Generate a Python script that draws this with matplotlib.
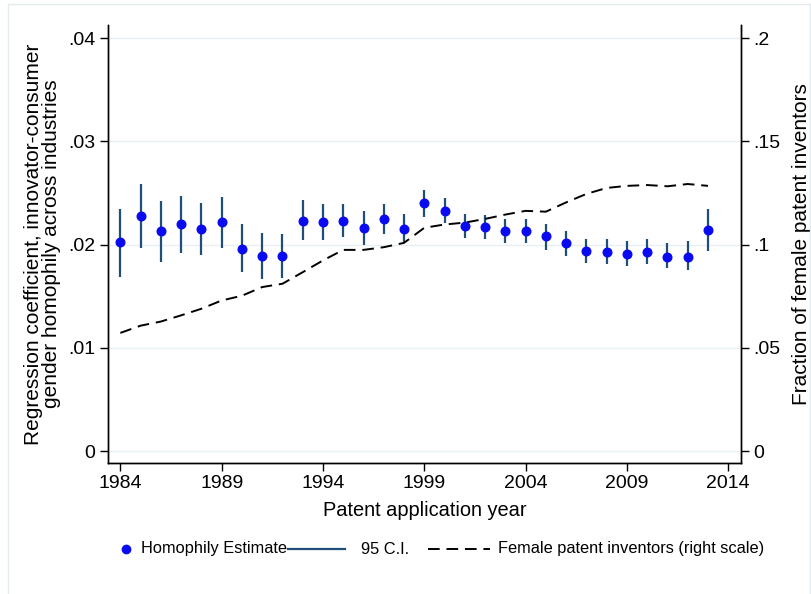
import matplotlib
matplotlib.use("Agg")
import matplotlib.pyplot as plt
from matplotlib.lines import Line2D
from matplotlib.patches import Rectangle
import numpy as np

plt.rcParams['font.family'] = ['Liberation Sans', 'DejaVu Sans']

years = list(range(1984, 2014))
estimate = [.0202, .0228, .0213, .0220, .0215, .0222, .0196, .0189, .0189, .0223,
            .0222, .0223, .0216, .0225, .0215, .0240, .0232, .0218, .0217, .0213,
            .0213, .0208, .0201, .0194, .0193, .0191, .0193, .0188, .0188, .0214]
ci_low = [.0169, .0197, .0183, .0192, .0190, .0197, .0173, .0167, .0168, .0204,
          .0204, .0207, .0200, .0210, .0201, .0227, .0221, .0206, .0205, .0201,
          .0201, .0195, .0189, .0182, .0181, .0179, .0181, .0177, .0175, .0194]
ci_high = [.0234, .0259, .0242, .0247, .0240, .0246, .0220, .0211, .0210, .0243,
           .0239, .0239, .0232, .0239, .0230, .0253, .0245, .0230, .0229, .0225,
           .0225, .0220, .0213, .0205, .0205, .0203, .0205, .0201, .0203, .0234]
female_share = [.0572, .0607, .0627, .0657, .0689, .0729, .0752, .0794, .0810, .0866,
                .0923, .0974, .0974, .0987, .1008, .1081, .1097, .1106, .1124, .1145,
                .1163, .1159, .1204, .1245, .1274, .1284, .1288, .1282, .1293, .1284]

left_ticks = [0, .01, .02, .03, .04]
left_labels = ['0', '.01', '.02', '.03', '.04']
right_ticks = [0, .05, .1, .15, .2]
right_labels = ['0', '.05', '.1', '.15', '.2']
x_ticks = [1984, 1989, 1994, 1999, 2004, 2009, 2014]

ci_color = '#1f4e79'
dot_color = '#0a0af0'
grid_color = '#e8eff2'

W, H = 811, 594
fig = plt.figure(figsize=(W / 100, H / 100), dpi=100)
ax = fig.add_axes([108 / W, 1 - 463 / H, (741 - 108) / W, (463 - 25) / H])

fig.patches.append(Rectangle((8 / W, -0.05), (810 - 8) / W, 1.05 - 4 / H,
                             transform=fig.transFigure, fill=False,
                             edgecolor='#e3ebee', linewidth=1))

ax.vlines(years, ci_low, ci_high, color=ci_color, linewidth=1.6, zorder=3)
ax.plot(years, estimate, 'o', color=dot_color, markersize=6.2, zorder=4)

ax.set_xlim(1983.39, 2014.63)
ax.set_ylim(-0.00116, 0.04126)
ax.set_yticks(left_ticks)
ax.set_yticklabels(left_labels)
ax.set_xticks(x_ticks)
ax.grid(axis='y', color=grid_color, linewidth=1)
ax.set_axisbelow(True)

ax2 = ax.twinx()
ax2.plot(years, female_share, color='black', linewidth=1.4, dashes=(6, 3.5))
ax2.set_ylim(-0.00116 * 5, 0.04126 * 5)
ax2.set_yticks(right_ticks)
ax2.set_yticklabels(right_labels)

for a in (ax, ax2):
    a.spines['top'].set_visible(False)
    for s in ('left', 'right', 'bottom'):
        a.spines[s].set_linewidth(1)
    a.tick_params(labelsize=14, length=6, width=1, pad=3)

ax.set_xlabel('Patent application year', fontsize=14.4, labelpad=6)
ax.set_ylabel('Regression coefficient, innovator-consumer\ngender homophily across industries',
              fontsize=15, labelpad=5, linespacing=0.95)
ax2.set_ylabel('Fraction of female patent inventors', fontsize=15, labelpad=8)

# legend laid out by hand, Stata style
ly = 1 - 549 / H
fig.add_artist(Line2D([126 / W], [ly], marker='o', linestyle='none',
                      color=dot_color, markersize=6))
fig.text(141 / W, ly, 'Homophily Estimate', fontsize=11.8, va='center')
fig.add_artist(Line2D([288 / W, 345 / W], [ly, ly], color=ci_color, linewidth=1.6))
fig.text(361 / W, ly, '95 C.I.', fontsize=11.8, va='center')
fig.add_artist(Line2D([428 / W, 490 / W], [ly, ly], color='black',
                      linewidth=1.4, dashes=(6, 3.5)))
fig.text(498 / W, ly, 'Female patent inventors (right scale)', fontsize=11.8, va='center')

fig.savefig('out.png', dpi=100)
